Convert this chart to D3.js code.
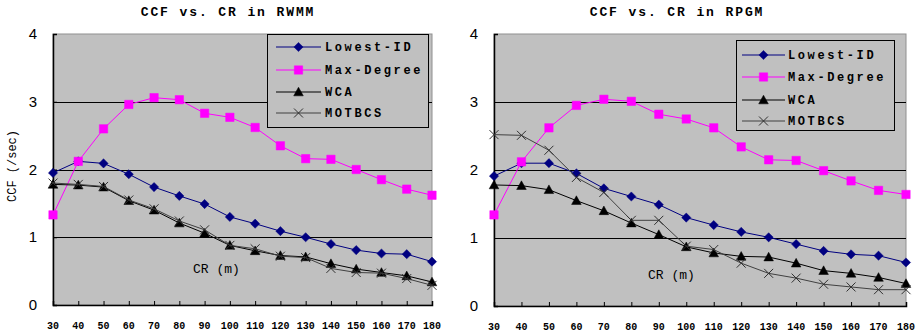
<!DOCTYPE html>
<html lang="en">
<head>
    <meta charset="UTF-8">
    <title>CCF vs. CR</title>
    <script src="https://d3js.org/d3.v7.min.js"></script>
    <style>
        body {
            margin: 0;
            background-color: #ffffff;
        }
        svg text {
            fill: #000000;
        }
        .title {
            font-family: 'Liberation Mono', monospace;
            font-size: 13px;
            font-weight: bold;
            letter-spacing: 1.9px;
        }
        .legend text {
            font-family: 'Liberation Mono', monospace;
            font-size: 12px;
            font-weight: bold;
            letter-spacing: 2.6px;
        }
        .ytick {
            font-family: 'Liberation Sans', Arial, sans-serif;
            font-size: 15px;
        }
        .xtick {
            font-family: 'Liberation Mono', monospace;
            font-size: 10px;
            font-weight: bold;
        }
        .axis-label {
            font-family: 'Liberation Mono', monospace;
            font-size: 12px;
        }
    </style>
</head>
<body>
<div id="chart"></div>
<script>
    // communication range (m)
    const crValues = [30, 40, 50, 60, 70, 80, 90, 100, 110, 120, 130, 140, 150, 160, 170, 180];
    const seriesNames = ["Lowest-ID", "Max-Degree", "WCA", "MOTBCS"];
    const yTicks = [0, 1, 2, 3, 4];

    // RWMM
    const rwmmLowestId  = [1.95, 2.12, 2.09, 1.93, 1.74, 1.61, 1.49, 1.30, 1.20, 1.09, 1.00, 0.90, 0.81, 0.76, 0.75, 0.64];
    const rwmmMaxDegree = [1.33, 2.12, 2.60, 2.96, 3.06, 3.03, 2.83, 2.77, 2.62, 2.35, 2.16, 2.15, 2.00, 1.85, 1.71, 1.62];
    const rwmmWca       = [1.78, 1.77, 1.74, 1.54, 1.40, 1.21, 1.06, 0.88, 0.80, 0.73, 0.71, 0.61, 0.53, 0.48, 0.43, 0.34];
    const rwmmMotbcs    = [1.80, 1.78, 1.75, 1.55, 1.42, 1.24, 1.11, 0.88, 0.83, 0.72, 0.70, 0.54, 0.48, 0.47, 0.39, 0.29];

    // RPGM
    const rpgmLowestId  = [1.91, 2.10, 2.10, 1.95, 1.73, 1.61, 1.49, 1.30, 1.19, 1.09, 1.01, 0.91, 0.81, 0.76, 0.74, 0.64];
    const rpgmMaxDegree = [1.34, 2.12, 2.62, 2.95, 3.04, 3.01, 2.82, 2.75, 2.62, 2.34, 2.15, 2.14, 1.99, 1.84, 1.70, 1.64];
    const rpgmWca       = [1.78, 1.77, 1.71, 1.55, 1.40, 1.22, 1.05, 0.87, 0.78, 0.73, 0.72, 0.63, 0.52, 0.48, 0.42, 0.33];
    const rpgmMotbcs    = [2.52, 2.51, 2.29, 1.89, 1.67, 1.26, 1.26, 0.88, 0.83, 0.63, 0.48, 0.41, 0.32, 0.28, 0.24, 0.24];

    const width = 920;
    const height = 336;

    // custom marker shapes (size = half width)
    const diamond = {draw(ctx, r) { ctx.moveTo(0, -r); ctx.lineTo(r, 0); ctx.lineTo(0, r); ctx.lineTo(-r, 0); ctx.closePath(); }};
    const square = {draw(ctx, r) { ctx.rect(-r, -r, 2 * r, 2 * r); }};
    const triangle = {draw(ctx, r) { ctx.moveTo(0, -r); ctx.lineTo(r, r * 0.8); ctx.lineTo(-r, r * 0.8); ctx.closePath(); }};
    const cross = {draw(ctx, r) { ctx.moveTo(-r, -r); ctx.lineTo(r, r); ctx.moveTo(r, -r); ctx.lineTo(-r, r); }};

    const styles = [
        {color: "#000080", shape: diamond, size: 4.6, filled: true, line: "#000080"},
        {color: "#ff00ff", shape: square, size: 4.2, filled: true, line: "#ff00ff"},
        {color: "#000000", shape: triangle, size: 4.8, filled: true, line: "#000000"},
        {color: "#303030", shape: cross, size: 4.5, filled: false, line: "#404040"}
    ];

    const panels = [
        {
            title: "CCF vs. CR in RWMM", titleX: 228,
            left: 53, right: 432, top: 34, bottom: 305,
            series: [rwmmLowestId, rwmmMaxDegree, rwmmWca, rwmmMotbcs],
            legend: {x: 267, y: 34, w: 161, h: 93, rows: [47, 70, 92, 113], lineX: [276, 321], textX: 325},
            crLabel: {x: 193, y: 273},
            yLabel: true
        },
        {
            title: "CCF vs. CR in RPGM", titleX: 677,
            left: 494, right: 906, top: 34, bottom: 306,
            series: [rpgmLowestId, rpgmMaxDegree, rpgmWca, rpgmMotbcs],
            legend: {x: 736, y: 40, w: 158, h: 90, rows: [55, 77, 100, 121], lineX: [742, 785], textX: 788},
            crLabel: {x: 648, y: 279},
            yLabel: false
        }
    ];

    const svg = d3.select("#chart")
        .append("svg")
        .attr("width", width)
        .attr("height", height);

    panels.forEach(p => {
        const g = svg.append("g");

        const x = d3.scalePoint()
            .domain(crValues)
            .range([p.left, p.right])
            .padding(0);

        const y = d3.scaleLinear()
            .domain([0, 4])
            .range([p.bottom, p.top]);

        // plot area
        g.append("rect")
            .attr("x", p.left)
            .attr("y", p.top)
            .attr("width", p.right - p.left)
            .attr("height", p.bottom - p.top)
            .attr("fill", "#c0c0c0")
            .attr("stroke", "#909090")
            .attr("stroke-width", 1);

        // gridlines
        g.selectAll(".grid")
            .data(yTicks.filter(t => t > 0 && t < 4))
            .enter()
            .append("line")
            .attr("x1", p.left)
            .attr("x2", p.right)
            .attr("y1", d => Math.round(y(d)) + 0.5)
            .attr("y2", d => Math.round(y(d)) + 0.5)
            .attr("stroke", "#000000")
            .attr("stroke-width", 1);

        // axes
        const xAxis = d3.axisBottom(x).tickSize(-4).tickFormat("");
        g.append("g")
            .attr("transform", `translate(0,${p.bottom})`)
            .call(xAxis)
            .call(a => a.select(".domain").attr("stroke", "#000").attr("stroke-width", 1.5));

        const yAxis = d3.axisLeft(y).tickValues(yTicks).tickSize(-4).tickFormat("");
        g.append("g")
            .attr("transform", `translate(${p.left},0)`)
            .call(yAxis)
            .call(a => a.select(".domain").attr("stroke", "#000").attr("stroke-width", 1.5));

        // tick labels
        g.selectAll(".ytick")
            .data(yTicks)
            .enter()
            .append("text")
            .attr("class", "ytick")
            .attr("x", p.left - 16)
            .attr("y", d => y(d) + 5)
            .attr("text-anchor", "end")
            .text(d => d);

        g.selectAll(".xtick")
            .data(crValues)
            .enter()
            .append("text")
            .attr("class", "xtick")
            .attr("x", d => x(d))
            .attr("y", p.bottom + 24)
            .attr("text-anchor", "middle")
            .text(d => d);

        // title
        g.append("text")
            .attr("class", "title")
            .attr("x", p.titleX)
            .attr("y", 16)
            .attr("text-anchor", "middle")
            .text(p.title);

        // series
        const line = d3.line()
            .x((d, i) => x(crValues[i]))
            .y(d => y(d));

        p.series.forEach((values, si) => {
            const st = styles[si];
            g.append("path")
                .datum(values)
                .attr("d", line)
                .attr("fill", "none")
                .attr("stroke", st.line)
                .attr("stroke-width", 1);

            g.selectAll(".m" + si)
                .data(values)
                .enter()
                .append("path")
                .attr("transform", (d, i) => `translate(${x(crValues[i])},${y(d)})`)
                .attr("d", d3.symbol(st.shape, st.size))
                .attr("fill", st.filled ? st.color : "none")
                .attr("stroke", st.color)
                .attr("stroke-width", st.filled ? 0.5 : 1);
        });

        // axis labels inside chart
        g.append("text")
            .attr("class", "axis-label")
            .attr("x", p.crLabel.x)
            .attr("y", p.crLabel.y)
            .style("font-size", "13px")
            .text("CR (m)");

        if (p.yLabel) {
            g.append("text")
                .attr("class", "axis-label")
                .attr("transform", "translate(16,166) rotate(-90)")
                .attr("text-anchor", "middle")
                .text("CCF (/sec)");
        }

        // legend
        const lg = g.append("g").attr("class", "legend");
        lg.append("rect")
            .attr("x", p.legend.x + 0.5)
            .attr("y", p.legend.y + 0.5)
            .attr("width", p.legend.w)
            .attr("height", p.legend.h)
            .attr("fill", "#c0c0c0")
            .attr("stroke", "#000000")
            .attr("stroke-width", 1);

        seriesNames.forEach((name, si) => {
            const st = styles[si];
            const ry = p.legend.rows[si];
            const [lx0, lx1] = p.legend.lineX;
            lg.append("line")
                .attr("x1", lx0)
                .attr("x2", lx1)
                .attr("y1", ry)
                .attr("y2", ry)
                .attr("stroke", st.line)
                .attr("stroke-width", 1);
            lg.append("path")
                .attr("transform", `translate(${(lx0 + lx1) / 2},${ry})`)
                .attr("d", d3.symbol(st.shape, st.size))
                .attr("fill", st.filled ? st.color : "none")
                .attr("stroke", st.color)
                .attr("stroke-width", st.filled ? 0.5 : 1);
            lg.append("text")
                .attr("x", p.legend.textX)
                .attr("y", ry + 4)
                .text(name);
        });
    });
</script>
</body>
</html>
